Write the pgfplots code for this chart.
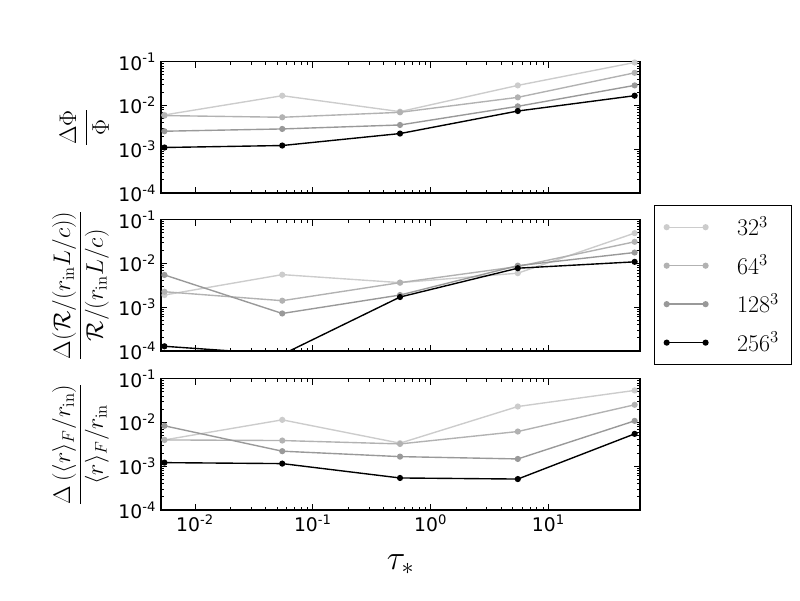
\documentclass[border=0pt]{standalone}
\usepackage[no-math]{fontspec}
\setmainfont{DejaVu Sans}
\usepackage{pgfplots}
\pgfplotsset{compat=1.18}
\definecolor{cA}{gray}{0.80}
\definecolor{cB}{gray}{0.70}
\definecolor{cC}{gray}{0.60}
\definecolor{cD}{gray}{0.0}
\pgfplotsset{
  mypanel/.style={
    xmin=0.00514, xmax=60, ymin=1e-4, ymax=1e-1,
    scale only axis, width=344.9pt, height=94.5pt,
    xtick={0.01,0.1,1,10},
    ytick={1e-4,1e-3,1e-2,1e-1},
    yticklabels={10\textsuperscript{-4},10\textsuperscript{-3},10\textsuperscript{-2},10\textsuperscript{-1}},
    tick label style={font=\fontsize{13.5}{15}\selectfont},
    every axis label/.append style={font=\fontsize{16.5}{19}\selectfont},
    axis line style={line width=1pt},
    tick style={line width=0.7pt, black},
    major tick length=4.5pt, minor tick length=2.5pt,
  },
  sA/.style={color=cA, line width=1pt, mark=*, mark size=1.7pt, mark options={fill=cA, draw=cA}},
  sB/.style={color=cB, line width=1pt, mark=*, mark size=1.7pt, mark options={fill=cB, draw=cB}},
  sC/.style={color=cC, line width=1pt, mark=*, mark size=1.7pt, mark options={fill=cC, draw=cC}},
  sD/.style={color=cD, line width=1pt, mark=*, mark size=1.7pt, mark options={fill=cD, draw=cD}},
}
\begin{document}
\begin{tikzpicture}
\useasboundingbox (0,0) rectangle (576pt,432pt);
% top panel
\begin{loglogaxis}[mypanel, at={(115.92pt,293.0pt)}, anchor=south west,
  xticklabels={},
  ylabel={$\displaystyle\frac{\Delta\Phi}{\Phi}$}]
\addplot[sA] coordinates {(0.0055,0.0061) (0.055,0.0168) (0.55,0.00726) (5.5,0.0289) (54,0.0966)};
\addplot[sB] coordinates {(0.0055,0.0059) (0.055,0.0054) (0.55,0.0070) (5.5,0.0154) (54,0.056)};
\addplot[sC] coordinates {(0.0055,0.00259) (0.055,0.00292) (0.55,0.0036) (5.5,0.0096) (54,0.0289)};
\addplot[sD] coordinates {(0.0055,0.0011) (0.055,0.00122) (0.55,0.00229) (5.5,0.0075) (54,0.0168)};
\end{loglogaxis}
% middle panel
\begin{loglogaxis}[mypanel, at={(115.92pt,179.3pt)}, anchor=south west,
  xticklabels={},
  ylabel={$\displaystyle\frac{\Delta(\mathcal{R}/(r_{\mathrm{in}}L/c))}{\mathcal{R}/(r_{\mathrm{in}}L/c)}$},
  legend image code/.code={\draw[#1] plot coordinates {(0pt,0pt) (28pt,0pt)};},
  legend cell align=left,
  legend style={at={(1.029,1.115)}, anchor=north west, draw=black, line width=1pt,
    font=\fontsize{17}{20}\selectfont, row sep=8.2pt, inner xsep=7pt, inner ysep=6pt,
    /tikz/every odd column/.style={column sep=19pt}},
  ]
\addplot[sA] coordinates {(0.0055,0.0019) (0.055,0.00556) (0.55,0.00365) (5.5,0.0060) (54,0.0494)};
\addlegendentry{$32^3$}
\addplot[sB] coordinates {(0.0055,0.00226) (0.055,0.00141) (0.55,0.00365) (5.5,0.0085) (54,0.0313)};
\addlegendentry{$64^3$}
\addplot[sC] coordinates {(0.0055,0.00547) (0.055,0.00072) (0.55,0.0019) (5.5,0.0089) (54,0.0178)};
\addlegendentry{$128^3$}
\addplot[sD] coordinates {(0.0055,0.000128) (0.055,0.000083) (0.55,0.00171) (5.5,0.0078) (54,0.0109)};
\addlegendentry{$256^3$}
\end{loglogaxis}
% bottom panel
\begin{loglogaxis}[mypanel, at={(115.92pt,64.8pt)}, anchor=south west,
  xticklabels={10\textsuperscript{-2},10\textsuperscript{-1},10\textsuperscript{0},10\textsuperscript{1}},
  xlabel={$\tau_*$}, xlabel style={font=\fontsize{23}{26}\selectfont, yshift=-9pt},
  ylabel={$\displaystyle\frac{\Delta\left(\langle r\rangle_F/r_{\mathrm{in}}\right)}{\langle r\rangle_F/r_{\mathrm{in}}}$}]
\addplot[sA] coordinates {(0.0055,0.0040) (0.055,0.0115) (0.55,0.00337) (5.5,0.0232) (54,0.0541)};
\addplot[sB] coordinates {(0.0055,0.0040) (0.055,0.00387) (0.55,0.00324) (5.5,0.00622) (54,0.0254)};
\addplot[sC] coordinates {(0.0055,0.0084) (0.055,0.00221) (0.55,0.00166) (5.5,0.00147) (54,0.0109)};
\addplot[sD] coordinates {(0.0055,0.00121) (0.055,0.00115) (0.55,0.00054) (5.5,0.00051) (54,0.0055)};
\end{loglogaxis}
\end{tikzpicture}
\end{document}
